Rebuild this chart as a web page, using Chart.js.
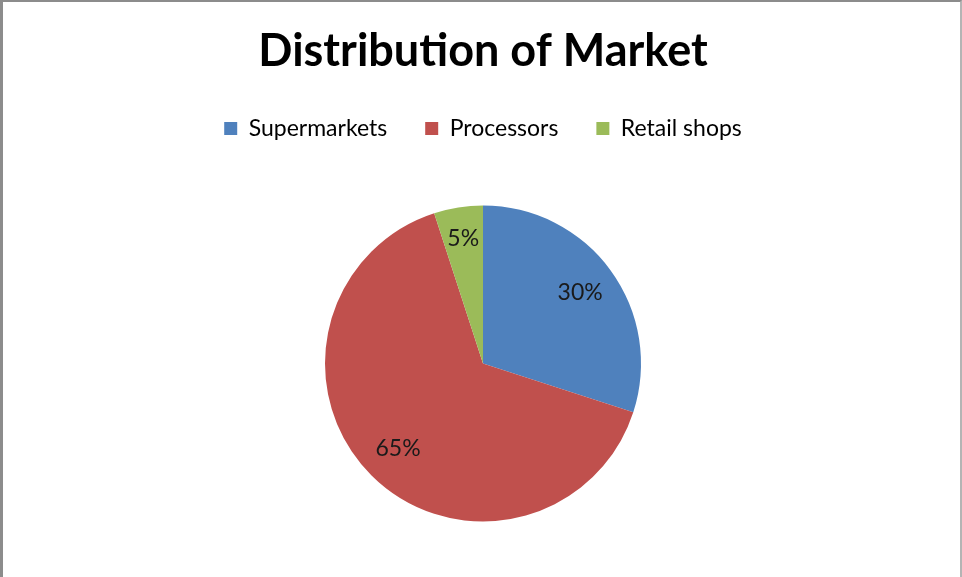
<!DOCTYPE html>
<html>
<head>
<meta charset="utf-8">
<script src="https://cdn.jsdelivr.net/npm/chart.js@4.4.1/dist/chart.umd.min.js"></script>
<style>
  html, body { margin: 0; padding: 0; background: #fff; overflow: hidden; }
  .frame {
    width: 957px;
    height: 575px;
    border-top: 2px solid #8c8c8c;
    border-left: 3px solid #8c8c8c;
    border-right: 2px solid #b4b4b4;
    overflow: hidden;
  }
  canvas { display: block; }
</style>
</head>
<body>
<div class="frame">
  <canvas id="marketChart" width="957" height="575"></canvas>
</div>
<script>
// Market share by channel
const categories = ['Supermarkets', 'Processors', 'Retail shops'];
const shares = [30, 65, 5];
const sliceColors = ['#4F81BD', '#C0504D', '#9BBB59'];

const FONT = 'Lato, "Open Sans", sans-serif';

// Percent labels drawn inside each slice
const sliceLabels = {
  id: 'sliceLabels',
  afterDatasetsDraw(chart) {
    const ctx = chart.ctx;
    const meta = chart.getDatasetMeta(0);
    const total = shares.reduce((a, b) => a + b, 0);
    ctx.save();
    ctx.font = '23px ' + FONT;
    ctx.fillStyle = '#1a1a1a';
    ctx.textAlign = 'center';
    ctx.textBaseline = 'middle';
    meta.data.forEach((arc, i) => {
      const p = arc.getProps(['x', 'y', 'startAngle', 'endAngle', 'outerRadius']);
      const mid = (p.startAngle + p.endAngle) / 2;
      const r = p.outerRadius * (i === 2 ? 0.8 : 0.76);
      const pct = Math.round(shares[i] / total * 100) + '%';
      ctx.fillText(pct, p.x + Math.cos(mid) * r, p.y + Math.sin(mid) * r);
    });
    ctx.restore();
  }
};

document.addEventListener('DOMContentLoaded', function() {
  const ctx = document.getElementById('marketChart').getContext('2d');
  new Chart(ctx, {
    type: 'pie',
    data: {
      labels: categories,
      datasets: [{
        data: shares,
        backgroundColor: sliceColors,
        borderWidth: 0,
        radius: 158
      }]
    },
    options: {
      responsive: false,
      animation: false,
      layout: { padding: { top: 12, bottom: 0, left: 3, right: 0 } },
      plugins: {
        title: {
          display: true,
          text: 'Distribution of Market',
          color: '#000',
          font: { family: FONT, size: 45, weight: 'bold' },
          padding: { top: 10, bottom: 1 }
        },
        legend: {
          position: 'top',
          labels: {
            color: '#000',
            font: { family: FONT, size: 23 },
            boxWidth: 13,
            boxHeight: 13,
            padding: 38
          }
        },
        tooltip: { enabled: false }
      }
    },
    plugins: [sliceLabels]
  });
});
</script>
</body>
</html>
